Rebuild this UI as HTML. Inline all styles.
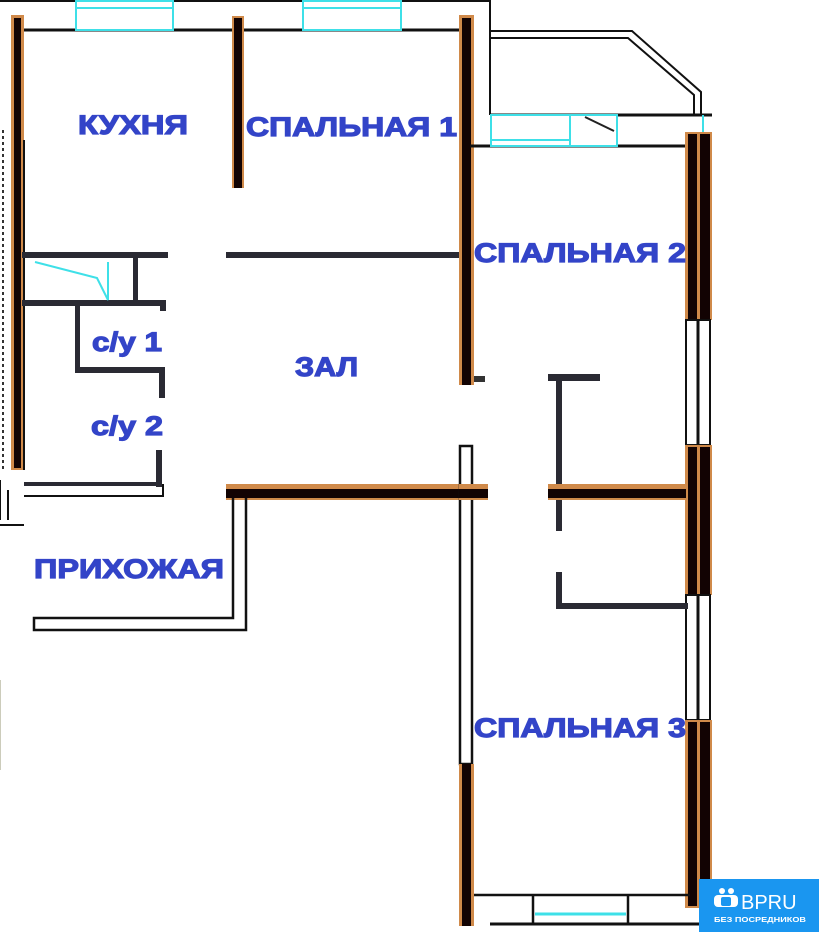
<!DOCTYPE html>
<html><head><meta charset="utf-8"><style>
html,body{margin:0;padding:0;background:#fff;}
svg{display:block;}
text{font-family:"Liberation Sans",Arial,sans-serif;font-weight:bold;fill:#3344c8;}
.lb{stroke:#3344c8;stroke-width:1.2;}
</style></head><body>
<svg width="819" height="932" viewBox="0 0 819 932" xmlns="http://www.w3.org/2000/svg">
<rect width="819" height="932" fill="#fff"/>
<line x1="0" y1="1" x2="490" y2="1" stroke="#111" stroke-width="2"/>
<line x1="22" y1="30" x2="462" y2="30" stroke="#111" stroke-width="3"/>
<rect x="76" y="1" width="97" height="29" fill="#fff" stroke="#3ee0e8" stroke-width="2"/>
<line x1="76" y1="8" x2="173" y2="8" stroke="#3ee0e8" stroke-width="2"/>
<rect x="303" y="1" width="98" height="29" fill="#fff" stroke="#3ee0e8" stroke-width="2"/>
<line x1="303" y1="8" x2="401" y2="8" stroke="#3ee0e8" stroke-width="2"/>
<line x1="3" y1="130" x2="3" y2="470" stroke="#333" stroke-width="2" stroke-dasharray="3,3"/>
<rect x="11" y="15" width="13" height="455" fill="#d08a4a"/>
<rect x="14" y="18" width="7" height="450" fill="#120303"/>
<line x1="24" y1="140" x2="24" y2="470" stroke="#111" stroke-width="2"/>
<line x1="0" y1="480" x2="0" y2="520" stroke="#111" stroke-width="2"/>
<line x1="8" y1="490" x2="8" y2="520" stroke="#111" stroke-width="2"/>
<line x1="0" y1="525" x2="24" y2="525" stroke="#111" stroke-width="2"/>
<line x1="0" y1="680" x2="0" y2="770" stroke="#ccb" stroke-width="2"/>
<rect x="232" y="16" width="12" height="172" fill="#d08a4a"/>
<rect x="234" y="18" width="8" height="170" fill="#120303"/>
<rect x="459" y="15" width="15" height="370" fill="#d08a4a"/>
<rect x="462" y="18" width="9" height="367" fill="#120303"/>
<rect x="474" y="376" width="11" height="6" fill="#333"/>
<line x1="490" y1="0" x2="490" y2="115" stroke="#111" stroke-width="2"/>
<polyline points="490,31 632,31 701,92 701,116" fill="none" stroke="#111" stroke-width="2"/>
<polyline points="490,38 628,38 694,95 694,116" fill="none" stroke="#111" stroke-width="2"/>
<line x1="490" y1="115" x2="712" y2="115" stroke="#111" stroke-width="3"/>
<line x1="470" y1="146" x2="690" y2="146" stroke="#111" stroke-width="3"/>
<rect x="491" y="115" width="126" height="31" fill="#fff" stroke="#3ee0e8" stroke-width="2"/>
<line x1="570" y1="115" x2="570" y2="146" stroke="#3ee0e8" stroke-width="2"/>
<line x1="491" y1="140" x2="570" y2="140" stroke="#3ee0e8" stroke-width="2"/>
<line x1="585" y1="117" x2="614" y2="131" stroke="#222" stroke-width="2"/>
<line x1="703" y1="115" x2="703" y2="132" stroke="#3ee0e8" stroke-width="2"/>
<g>
<rect x="685" y="132" width="27" height="188" fill="#d08a4a"/>
<rect x="688" y="134" width="9" height="186" fill="#120303"/><rect x="700" y="134" width="10" height="186" fill="#120303"/>
<rect x="686" y="320" width="24" height="125" fill="#fff" stroke="#111" stroke-width="2"/>
<line x1="698" y1="320" x2="698" y2="445" stroke="#111" stroke-width="3"/>
<rect x="685" y="445" width="27" height="150" fill="#d08a4a"/>
<rect x="688" y="447" width="9" height="148" fill="#120303"/><rect x="700" y="447" width="10" height="148" fill="#120303"/>
<rect x="686" y="595" width="24" height="125" fill="#fff" stroke="#111" stroke-width="2"/>
<line x1="698" y1="595" x2="698" y2="720" stroke="#111" stroke-width="3"/>
<rect x="685" y="720" width="27" height="188" fill="#d08a4a"/>
<rect x="688" y="722" width="9" height="184" fill="#120303"/><rect x="700" y="722" width="10" height="184" fill="#120303"/>
</g>
<rect x="22" y="252" width="146" height="6" fill="#2a2a33"/>
<rect x="226" y="252" width="233" height="6" fill="#2a2a33"/>
<rect x="22" y="300" width="144" height="6" fill="#2a2a33"/>
<rect x="160" y="306" width="6" height="5" fill="#2a2a33"/>
<rect x="133" y="258" width="5" height="42" fill="#2a2a33"/>
<polyline points="35,262 97,278 108,300 108,262" fill="none" stroke="#3ee0e8" stroke-width="2"/>
<rect x="75" y="306" width="5" height="66" fill="#2a2a33"/>
<rect x="75" y="367" width="90" height="6" fill="#2a2a33"/>
<rect x="159" y="367" width="6" height="31" fill="#2a2a33"/>
<rect x="156" y="450" width="6" height="37" fill="#2a2a33"/>
<rect x="24" y="482" width="138" height="4" fill="#2a2a33"/>
<line x1="24" y1="496" x2="163" y2="496" stroke="#111" stroke-width="2"/>
<line x1="163" y1="484" x2="163" y2="497" stroke="#111" stroke-width="2"/>
<rect x="226" y="484" width="262" height="16" fill="#d08a4a"/>
<rect x="226" y="489" width="262" height="9" fill="#120303"/>
<polyline points="233,498 233,618 34,618 34,630 246,630 246,498" fill="none" stroke="#111" stroke-width="2.5"/>
<rect x="460" y="446" width="12" height="318" fill="#fff" stroke="#111" stroke-width="2.5"/>
<rect x="459" y="764" width="15" height="162" fill="#d08a4a"/>
<rect x="462" y="764" width="9" height="162" fill="#120303"/>
<rect x="459" y="484" width="28" height="16" fill="#d08a4a"/>
<rect x="459" y="489" width="28" height="9" fill="#120303"/>
<rect x="548" y="374" width="52" height="7" fill="#2a2a33"/>
<rect x="556" y="378" width="6" height="153" fill="#2a2a33"/>
<rect x="548" y="484" width="138" height="16" fill="#d08a4a"/>
<rect x="548" y="489" width="138" height="9" fill="#120303"/>
<rect x="556" y="572" width="6" height="37" fill="#2a2a33"/>
<rect x="556" y="603" width="132" height="6" fill="#2a2a33"/>
<line x1="474" y1="895" x2="690" y2="895" stroke="#111" stroke-width="2.5"/>
<line x1="533" y1="895" x2="533" y2="925" stroke="#111" stroke-width="2.5"/>
<line x1="628" y1="895" x2="628" y2="925" stroke="#111" stroke-width="2.5"/>
<line x1="535" y1="914" x2="626" y2="914" stroke="#3ee0e8" stroke-width="3"/>
<line x1="490" y1="924" x2="700" y2="924" stroke="#111" stroke-width="3"/>
<text class="lb" x="78" y="134" font-size="27" textLength="110" lengthAdjust="spacingAndGlyphs">КУХНЯ</text>
<text class="lb" x="246" y="136" font-size="27" textLength="211" lengthAdjust="spacingAndGlyphs">СПАЛЬНАЯ 1</text>
<text class="lb" x="474" y="262" font-size="27" textLength="212" lengthAdjust="spacingAndGlyphs">СПАЛЬНАЯ 2</text>
<text class="lb" x="92" y="351" font-size="27" textLength="70" lengthAdjust="spacingAndGlyphs">с/у 1</text>
<text class="lb" x="295" y="376" font-size="27" textLength="63" lengthAdjust="spacingAndGlyphs">ЗАЛ</text>
<text class="lb" x="91" y="435" font-size="27" textLength="72" lengthAdjust="spacingAndGlyphs">с/у 2</text>
<text class="lb" x="34" y="578" font-size="27" textLength="190" lengthAdjust="spacingAndGlyphs">ПРИХОЖАЯ</text>
<text class="lb" x="474" y="737" font-size="27" textLength="212" lengthAdjust="spacingAndGlyphs">СПАЛЬНАЯ 3</text>
<rect x="699" y="879" width="120" height="53" fill="#1a96f0"/>
<circle cx="722" cy="891" r="3" fill="#fff"/><circle cx="731" cy="891" r="3" fill="#fff"/>
<rect x="714" y="895" width="24" height="12" rx="4" fill="#fff"/>
<rect x="721" y="897" width="10" height="9" rx="2" fill="#1a96f0"/>
<text x="741" y="909" font-size="20" style="fill:#fff;font-weight:normal">BPRU</text>
<text x="714" y="922" font-size="7.5" style="fill:#fff" textLength="92" lengthAdjust="spacingAndGlyphs">БЕЗ ПОСРЕДНИКОВ</text>
</svg>
</body></html>
